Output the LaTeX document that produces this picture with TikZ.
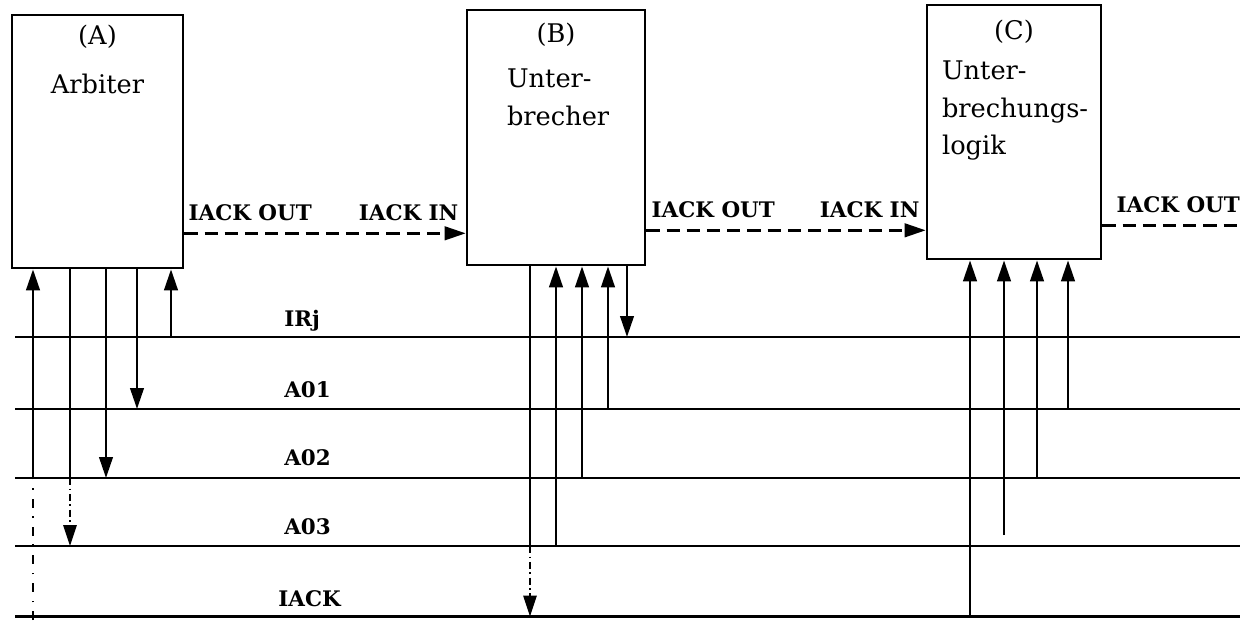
\documentclass[tikz,border=0pt]{standalone}
\usepackage{fontspec}
\setmainfont{DejaVu Serif}
\usetikzlibrary{arrows.meta,positioning}

\tikzset{
  unit/.style={draw, line width=1.5pt, inner sep=0pt},
  txt/.style={inner sep=0pt, font=\fontsize{14.6}{21.3}\selectfont},
  sig/.style={inner sep=0pt, font=\fontsize{12.2}{14}\selectfont\bfseries},
  bus/.style={line width=1.5pt},
  tip/.style={-{Triangle[length=4.2mm,width=2.7mm]}},
  ackline/.style={bus, dash pattern=on 7.5pt off 4pt},
  thinline/.style={line width=0.7pt, dash pattern=on 4pt off 2pt on 1pt off 2pt},
  sparseline/.style={line width=0.7pt, dash pattern=on 5pt off 5pt on 1pt off 5pt}
}

\begin{document}
\begin{tikzpicture}
  \useasboundingbox (0,0) rectangle (24.8,12.4);

  % the three units
  \node[unit, minimum width=3.42cm, minimum height=5.06cm] (A) at (1.95,9.57) {};
  \node[unit, minimum width=3.56cm, minimum height=5.1cm] (B) at (11.12,9.65) {};
  \node[unit, minimum width=3.48cm, minimum height=5.08cm] (C) at (20.28,9.76) {};

  \node[txt, below=0.22cm of A.north] (Aid) {(A)};
  \node[txt, below=1.2cm of A.north] (Aname) {Arbiter};
  \node[txt, below=0.28cm of B.north] (Bid) {(B)};
  \node[txt, align=left, below right=1.2cm and 0.82cm of B.north west] (Bname) {Unter-\\brecher};
  \node[txt, below=0.32cm of C.north] (Cid) {(C)};
  \node[txt, align=left, below right=1.14cm and 0.32cm of C.north west] (Cname) {Unter-\\brechungs-\\logik};

  % bus lines
  \coordinate (irj) at (0.3,5.66);  \coordinate (irjR) at (24.8,5.66);
  \coordinate (ao1) at (0.3,4.22);  \coordinate (ao1R) at (24.8,4.22);
  \coordinate (ao2) at (0.3,2.84);  \coordinate (ao2R) at (24.8,2.84);
  \coordinate (ao3) at (0.3,1.48);  \coordinate (ao3R) at (24.8,1.48);
  \coordinate (iack) at (0.3,0.07); \coordinate (iackR) at (24.8,0.07);
  \draw[bus] (irj) -- (irjR);
  \draw[bus] (ao1) -- (ao1R);
  \draw[bus] (ao2) -- (ao2R);
  \draw[bus] (ao3) -- (ao3R);
  \draw[bus] (iack) -- (iackR);
  \node[sig, anchor=base west] (lirj) at (5.68,5.88) {IRj};
  \node[sig, anchor=base west] (lao1) at (5.68,4.46) {A01};
  \node[sig, anchor=base west] (lao2) at (5.68,3.1) {A02};
  \node[sig, anchor=base west] (lao3) at (5.68,1.72) {A03};
  \node[sig, anchor=base west] (liack) at (5.56,0.28) {IACK};

  % daisy chain
  \coordinate (oA) at ([yshift=0.72cm]A.south east);
  \coordinate (iB) at (oA -| B.west);
  \coordinate (oB) at ([yshift=0.72cm]B.south east);
  \coordinate (iC) at (oB -| C.west);
  \coordinate (oC) at ([yshift=0.7cm]C.south east);
  \coordinate (eC) at (oC -| irjR);
  \draw[ackline, tip] (oA) -- (iB);
  \draw[ackline, tip] (oB) -- (iC);
  \draw[ackline] (oC) -- (eC);
  \node[sig, anchor=base west] (loA) at ([shift={(0.08,0.26)}]oA) {IACK OUT};
  \node[sig, anchor=base east] (liB) at ([shift={(-0.14,0.26)}]iB) {IACK IN};
  \node[sig, anchor=base west] (loB) at ([shift={(0.1,0.26)}]oB) {IACK OUT};
  \node[sig, anchor=base east] (liC) at ([shift={(-0.12,0.26)}]iC) {IACK IN};
  \node[sig, anchor=base west] (loC) at ([shift={(0.28,0.26)}]oC) {IACK OUT};

  % arbiter taps
  \coordinate (tA1) at (0.66,0);
  \coordinate (tA2) at (1.4,0);
  \coordinate (tA3) at (2.12,0);
  \coordinate (tA4) at (2.74,0);
  \coordinate (tA5) at (3.42,0);
  \draw[sparseline] (tA1) -- (tA1 |- ao2);
  \draw[bus, tip] (tA1 |- ao2) -- (tA1 |- A.south);
  \draw[bus] (tA2 |- A.south) -- (tA2 |- ao2);
  \draw[thinline, tip] (tA2 |- ao2) -- (tA2 |- ao3);
  \draw[bus, tip] (tA3 |- A.south) -- (tA3 |- ao2);
  \draw[bus, tip] (tA4 |- A.south) -- (tA4 |- ao1);
  \draw[bus, tip] (tA5 |- irj) -- (tA5 |- A.south);

  % interrupter taps
  \coordinate (tB1) at (10.6,0);
  \coordinate (tB2) at (11.12,0);
  \coordinate (tB3) at (11.64,0);
  \coordinate (tB4) at (12.16,0);
  \coordinate (tB5) at (12.54,0);
  \draw[bus] (tB1 |- B.south) -- (tB1 |- ao3);
  \draw[thinline, tip] (tB1 |- ao3) -- (tB1 |- iack);
  \draw[bus, tip] (tB2 |- ao3) -- (tB2 |- B.south);
  \draw[bus, tip] (tB3 |- ao2) -- (tB3 |- B.south);
  \draw[bus, tip] (tB4 |- ao1) -- (tB4 |- B.south);
  \draw[bus, tip] (tB5 |- B.south) -- (tB5 |- irj);

  % interrupt logic taps
  \coordinate (tC1) at (19.4,0);
  \coordinate (tC2) at (20.08,1.7);
  \coordinate (tC3) at (20.74,0);
  \coordinate (tC4) at (21.36,0);
  \draw[bus, tip] (tC1 |- iack) -- (tC1 |- C.south);
  \draw[bus, tip] (tC2) -- (tC2 |- C.south);
  \draw[bus, tip] (tC3 |- ao2) -- (tC3 |- C.south);
  \draw[bus, tip] (tC4 |- ao1) -- (tC4 |- C.south);
\end{tikzpicture}
\end{document}
